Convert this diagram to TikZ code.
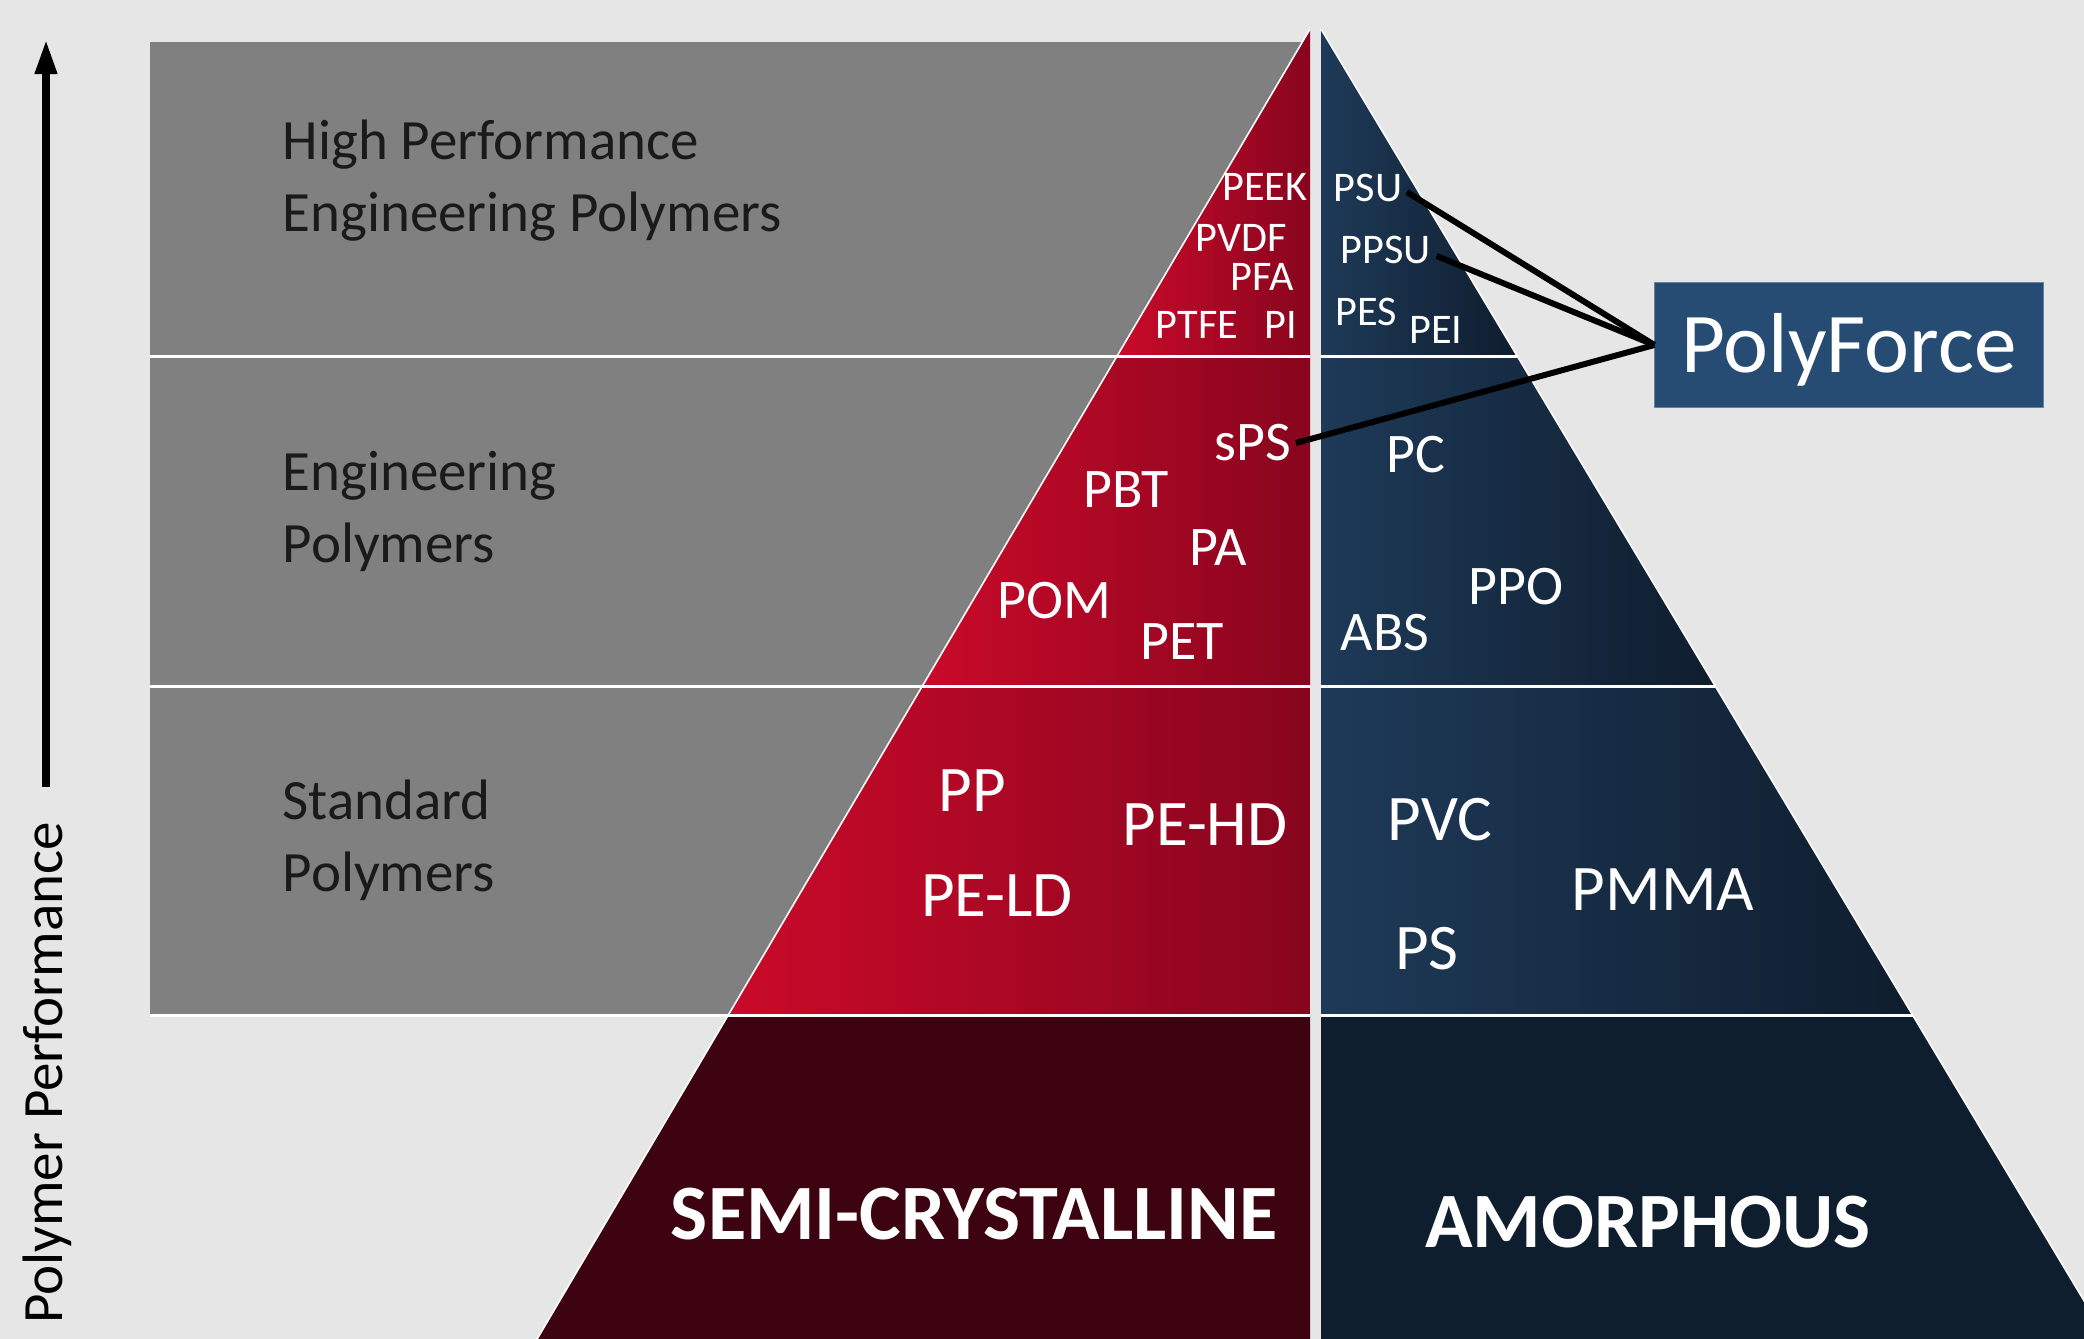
\documentclass[tikz,border=0pt]{standalone}
\usepackage{fontspec}
\setmainfont{Carlito}
\usetikzlibrary{arrows.meta}
\definecolor{bg}{RGB}{230,230,230}
\definecolor{band}{RGB}{128,128,128}
\definecolor{redL}{RGB}{202,10,42}
\definecolor{redR}{RGB}{136,5,30}
\definecolor{redBase}{RGB}{62,3,16}
\definecolor{blueL}{RGB}{30,58,88}
\definecolor{blueR}{RGB}{15,29,46}
\definecolor{blueBase}{RGB}{14,30,46}
\definecolor{pfblue}{RGB}{38,76,116}
\definecolor{ink}{RGB}{26,26,26}
\tikzset{
  tier/.style={font=\fontsize{16.2}{20.2}\selectfont, text=ink, align=left, anchor=base west, inner sep=0pt},
  small/.style={font=\fontsize{12}{14}\selectfont, text=white, inner sep=0pt},
  mid/.style={font=\fontsize{15.9}{19}\selectfont, text=white, inner sep=0pt},
  big/.style={font=\fontsize{18.5}{22}\selectfont, text=white, inner sep=0pt},
  basename/.style={font=\bfseries\fontsize{22.3}{27}\selectfont, text=white, inner sep=0pt},
  sep/.style={white, line width=0.85pt},
  rim/.style={white, line width=0.45pt},
  link/.style={black, line width=1.7pt},
}
\begin{document}
\begin{tikzpicture}[x=0.01cm, y=-0.01cm]
\fill[bg] (0,0) rectangle (2084,1339);
\useasboundingbox (0,0) rectangle (2084,1339);
\clip (0,0) rectangle (2084,1339);

% grey tier bands behind the pyramid
\fill[band] (150,42) rectangle (1310,1015);

% semi-crystalline half
\shade[left color=redL, right color=redR] (1310,29) -- (1117,356) -- (1310,356) -- cycle;
\shade[left color=redL, right color=redR] (1117,356) -- (922.4,686) -- (1310,686) -- (1310,356) -- cycle;
\shade[left color=redL, right color=redR] (922.4,686) -- (728.3,1015) -- (1310,1015) -- (1310,686) -- cycle;
\fill[redBase] (728.3,1015) -- (537.1,1339) -- (1310,1339) -- (1310,1015) -- cycle;

% amorphous half
\shade[left color=blueL, right color=blueR] (1321,29) -- (1517.2,356) -- (1321,356) -- cycle;
\shade[left color=blueL, right color=blueR] (1321,356) -- (1517.2,356) -- (1715.2,686) -- (1321,686) -- cycle;
\shade[left color=blueL, right color=blueR] (1321,686) -- (1715.2,686) -- (1912.6,1015) -- (1321,1015) -- cycle;
\fill[blueBase] (1321,1015) -- (1912.6,1015) -- (2107,1339) -- (1321,1339) -- cycle;

% tier separators and pyramid rims
\draw[sep] (150,356) -- (1310,356) (150,686) -- (1310,686) (150,1015) -- (1310,1015);
\draw[sep] (1321,356) -- (1517.2,356) (1321,686) -- (1715.2,686) (1321,1015) -- (1912.6,1015);
\draw[rim] (1310,29) -- (537.1,1339);
\draw[rim] (1321,29) -- (2107,1339);

% performance axis
\coordinate (axlow) at (46,787);
\coordinate (axtop) at (46,40);
\draw[line width=2pt, -{Triangle[width=6pt,length=9.7pt]}] (axlow) -- (axtop);
\node[rotate=90, inner sep=0pt, font=\fontsize{16.2}{20}\selectfont, text=black] (axis) at (47,1073) {Polymer Performance};

% tier names (anchored on the baseline of the second line)
\node[tier] (hp) at (282,231) {High Performance\\Engineering Polymers};
\node[tier] (ep) at (282,562) {Engineering\\Polymers};
\node[tier] (sp) at (282,891) {Standard\\Polymers};

% high performance polymers
\node[small] (peek) at (1265,187) {PEEK};
\node[small] (pvdf) at (1241,238) {PVDF};
\node[small] (pfa)  at (1262,277) {PFA};
\node[small] (ptfe) at (1197,325) {PTFE};
\node[small] (pi)   at (1281,325) {PI};
\node[small] (psu)  at (1368,188) {PSU};
\node[small] (ppsu) at (1386,250) {PPSU};
\node[small] (pes)  at (1366,312) {PES};
\node[small] (pei)  at (1436,330) {PEI};

% engineering polymers
\node[mid] (sps) at (1253,443) {sPS};
\node[mid] (pbt) at (1126,490) {PBT};
\node[mid] (pa)  at (1218,548) {PA};
\node[mid] (pom) at (1054,601) {POM};
\node[mid] (pet) at (1182,642) {PET};
\node[mid] (pc)  at (1416,455) {PC};
\node[mid] (ppo) at (1516,587) {PPO};
\node[mid] (abs) at (1385,633) {ABS};

% standard polymers
\node[big] (pp)   at (972,791) {PP};
\node[big] (pehd) at (1205,825) {PE-HD};
\node[big] (peld) at (997,896) {PE-LD};
\node[big] (pvc)  at (1440,820) {PVC};
\node[big] (pmma) at (1663,890) {PMMA};
\node[big] (ps)   at (1427,949) {PS};

% base classes
\node[basename] (semi) at (974,1214) {SEMI-CRYSTALLINE};
\node[basename] (amor) at (1648,1222) {AMORPHOUS};

% PolyForce callout
\node[fill=pfblue, draw=pfblue!70!white, line width=0.3pt, minimum width=3.88cm, minimum height=1.24cm,
      inner sep=0pt, text=white, font=\fontsize{24.2}{29}\selectfont,
      text height=15.6pt, text depth=0pt] (pf) at (1849,345) {PolyForce};
\draw[link] ([shift={(4,4)}]psu.east) -- (pf.west);
\draw[link] ([shift={(5,6)}]ppsu.east) -- (pf.west);
\draw[link] ([shift={(4,0)}]sps.east) -- (pf.west);
\end{tikzpicture}
\end{document}
